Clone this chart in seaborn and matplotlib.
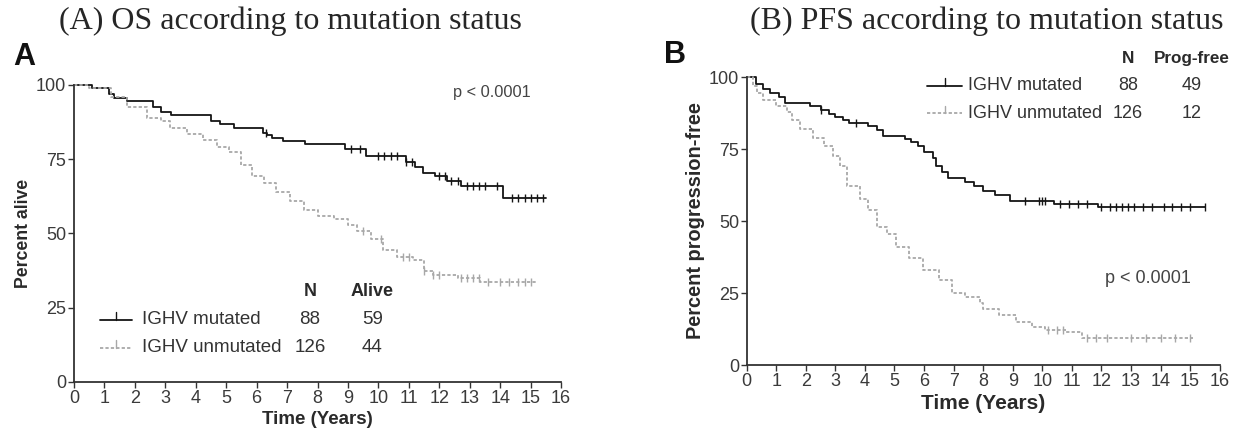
import numpy as np
import matplotlib
matplotlib.use("Agg")
import matplotlib.pyplot as plt
import seaborn as sns

# ---- data (Kaplan-Meier steps, percent) ----
os_mut_t = [0, 0.6, 1.15, 1.3, 1.75, 2.6, 2.86, 3.2, 4.5, 4.8, 5.25, 6.2, 6.35, 6.5, 6.85,
            7.6, 8.9, 9.6, 10.9, 11.2, 11.45, 11.85, 12.25, 12.7, 14.1, 15.5]
os_mut_s = [100, 99, 97, 95.5, 94.5, 92.7, 91, 90, 88, 87, 85.5, 84, 83, 82, 81,
            80, 78.5, 76, 74, 72.5, 70.5, 69.3, 67.8, 66, 62, 62]
os_mut_cens = [6.3, 9.1, 9.4, 10.0, 10.2, 10.4, 10.6, 10.9, 11.1, 12.0, 12.2, 12.4, 12.6,
               12.9, 13.1, 13.3, 13.5, 13.9, 14.4, 14.6, 14.8, 15.0, 15.2, 15.4]

os_unm_t = [0, 0.5, 1.2, 1.75, 2.4, 2.85, 3.15, 3.7, 4.25, 4.7, 5.1, 5.5, 5.85, 6.25, 6.65,
            7.1, 7.55, 8.0, 8.55, 9.0, 9.3, 9.75, 10.15, 10.6, 11.15, 11.5, 11.8, 12.6,
            13.35, 15.2]
os_unm_s = [100, 99, 96, 92.5, 89, 88, 85.5, 83.5, 81.5, 79, 77.5, 73, 69.5, 67, 64,
            61, 58, 56, 55, 53, 51, 48, 44.5, 42, 41, 37.5, 36, 35, 33.8, 33.8]
os_unm_cens = [9.5, 10.1, 10.8, 11.0, 11.5, 11.8, 12.0, 12.7, 12.9, 13.1, 13.3, 13.6,
               14.0, 14.3, 14.6, 14.8, 15.0]

pfs_mut_t = [0, 0.3, 0.55, 0.8, 1.1, 1.3, 2.15, 2.5, 2.8, 3.0, 3.25, 3.45, 4.1, 4.4, 4.6,
             5.35, 5.55, 5.8, 6.0, 6.3, 6.4, 6.6, 6.8, 7.4, 7.7, 8.0, 8.4, 8.9, 10.4, 11.9, 15.5]
pfs_mut_s = [100, 97.5, 96, 94.5, 93, 91, 90, 88.5, 87, 86, 85, 84, 83, 81.5, 79.5,
             78.5, 77.5, 76, 74, 72, 69, 67, 65, 63.5, 62, 60.5, 59, 57, 56, 55, 55]
pfs_mut_cens = [2.5, 3.7, 9.4, 9.9, 10.0, 10.1, 10.6, 10.9, 11.2, 11.5, 12.0, 12.3, 12.5,
                12.7, 12.9, 13.1, 13.4, 13.7, 14.1, 14.4, 14.7, 15.0, 15.5]

pfs_unm_t = [0, 0.22, 0.34, 0.56, 1.0, 1.35, 1.52, 1.8, 2.25, 2.6, 2.93, 3.15, 3.38, 3.83,
             4.1, 4.4, 4.75, 5.05, 5.5, 5.95, 6.5, 6.95, 7.4, 7.9, 8.0, 8.55, 9.1, 9.65,
             10.1, 10.8, 11.35, 15.1]
pfs_unm_s = [100, 97, 94.5, 92, 90, 88, 85, 82, 79, 76, 72.5, 69, 62, 57.5,
             54, 48, 45.5, 41, 37, 33, 29.5, 25, 23.5, 21.5, 19.5, 17.5, 15, 13.3,
             12.2, 11.5, 9.3, 9.3]
pfs_unm_cens = [10.2, 10.5, 10.7, 11.5, 11.8, 12.2, 13.0, 13.5, 14.0, 14.5, 15.0]

groups = ["IGHV mutated", "IGHV unmutated"]
n_pat = ["88", "126"]
os_alive = ["59", "44"]
pfs_free = ["49", "12"]
x_ticks = list(range(0, 17))
y_ticks = [0, 25, 50, 75, 100]

sns.set_theme(style="ticks")
plt.rcParams["font.family"] = ["Liberation Sans", "DejaVu Sans"]

fig = plt.figure(figsize=(12.35, 4.33), dpi=100)
axA = fig.add_axes([0.0599, 0.1178, 0.3944, 0.6859])
axB = fig.add_axes([0.6046, 0.157, 0.3830, 0.6651])

MUT_COLOR = "#151515"
UNM_COLOR = "#a8a8a8"
TXT = "#2a2a2a"
UNM_LS = (0, (1.8, 1.2))


def step_at(tt, ss, x):
    idx = np.searchsorted(np.asarray(tt), np.asarray(x), side="right") - 1
    return np.asarray(ss)[idx]


def km(ax, t, s, cens, color, ls):
    sns.lineplot(x=t, y=s, ax=ax, color=color, linewidth=1.3, drawstyle="steps-post",
                 linestyle=ls, estimator=None, sort=False, clip_on=False)
    ax.scatter(cens, step_at(t, s, cens), marker="|", s=30, color=color,
               linewidths=1.0, clip_on=False, zorder=3)


km(axA, os_mut_t, os_mut_s, os_mut_cens, MUT_COLOR, "-")
km(axA, os_unm_t, os_unm_s, os_unm_cens, UNM_COLOR, UNM_LS)
km(axB, pfs_mut_t, pfs_mut_s, pfs_mut_cens, MUT_COLOR, "-")
km(axB, pfs_unm_t, pfs_unm_s, pfs_unm_cens, UNM_COLOR, UNM_LS)

for ax, ylab, ysize, xsize in [(axA, "Percent alive", 12.7, 13.5),
                               (axB, "Percent progression-free", 14.4, 15)]:
    ax.set_xlim(0, 16)
    ax.set_ylim(0, 100)
    ax.set_xticks(x_ticks)
    ax.set_yticks(y_ticks)
    ax.tick_params(axis="both", labelsize=13, length=4, width=1, pad=1.5,
                   colors="#333333", labelcolor="#3a3a3a")
    for sp in ["top", "right"]:
        ax.spines[sp].set_visible(False)
    for sp in ["left", "bottom"]:
        ax.spines[sp].set_linewidth(1.3)
        ax.spines[sp].set_color("#333333")
    ax.set_xlabel("Time (Years)", fontsize=xsize, fontweight="bold", color=TXT, labelpad=3)
    ax.set_ylabel(ylab, fontsize=ysize, fontweight="bold", color=TXT, labelpad=3)

# p-values
axA.text(12.45, 97.5, "p < 0.0001", fontsize=11.8, color="#444444", va="center", ha="left")
axB.text(12.13, 29.9, "p < 0.0001", fontsize=13, color="#444444", va="center", ha="left")


def legend(ax, x0, x1, xt, xn, xv, y_head, rows_y, head2, vals, fs_head, fs):
    ax.text(xn, y_head, "N", fontsize=fs_head, fontweight="bold", color=TXT, ha="center",
            va="center", clip_on=False)
    ax.text(xv, y_head, head2, fontsize=fs_head, fontweight="bold", color=TXT, ha="center",
            va="center", clip_on=False)
    for i, (g, n, v) in enumerate(zip(groups, n_pat, vals)):
        y = rows_y[i]
        color = MUT_COLOR if i == 0 else UNM_COLOR
        ls = "-" if i == 0 else UNM_LS
        ax.plot([x0, x1], [y, y], color=color, linestyle=ls, linewidth=1.3, clip_on=False)
        ax.plot([(x0 + x1) / 2] * 2, [y, y + 2.5], color=color, linewidth=1.0, clip_on=False)
        ax.text(xt, y, g, fontsize=fs, color="#333333", ha="left", va="center", clip_on=False)
        ax.text(xn, y, n, fontsize=fs, color="#333333", ha="center", va="center", clip_on=False)
        ax.text(xv, y, v, fontsize=fs, color="#333333", ha="center", va="center", clip_on=False)


legend(axA, 0.85, 1.9, 2.25, 7.75, 9.8, 30.5, [21, 11.5], "Alive", os_alive, 13, 13.5)
legend(axB, 6.1, 7.3, 7.5, 12.9, 15.05, 106.5, [97, 87.5], "Prog-free", pfs_free, 12.3, 13)

# panel letters and titles
fig.text(0.011, 0.868, "A", fontsize=22, fontweight="bold", color="#111111", va="center")
fig.text(0.538, 0.872, "B", fontsize=22, fontweight="bold", color="#111111", va="center")
fig.text(0.235, 0.952, "(A) OS according to mutation status", fontsize=23,
         family=["Liberation Serif", "DejaVu Serif"], ha="center", va="center")
fig.text(0.799, 0.952, "(B) PFS according to mutation status", fontsize=23,
         family=["Liberation Serif", "DejaVu Serif"], ha="center", va="center")

fig.savefig("out.png", dpi=100)
